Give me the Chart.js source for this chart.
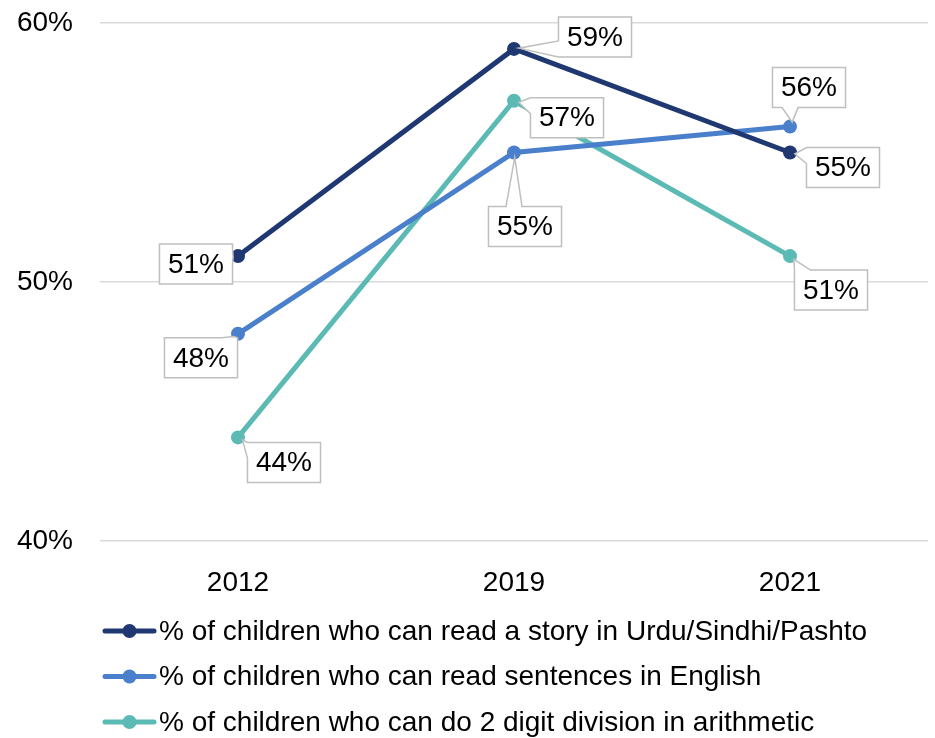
<!DOCTYPE html>
<html>
<head>
<meta charset="utf-8">
<script src="https://cdn.jsdelivr.net/npm/chart.js@4.4.1/dist/chart.umd.min.js"></script>
<style>
  html, body { margin: 0; padding: 0; background: #fff; }
  #wrap { width: 935px; height: 738px; }
</style>
</head>
<body>
<div id="wrap"><canvas id="chart"></canvas></div>
<script>
// survey years and the three learning indicators (percent)
const years = ['2012', '2019', '2021'];
const readStory = [51, 59, 55];
const readEnglish = [48, 55, 56];
const twoDigitDivision = [44, 57, 51];
const seriesNames = [
    '% of children who can read a story in Urdu/Sindhi/Pashto',
    '% of children who can read sentences in English',
    '% of children who can do 2 digit division in arithmetic'
];
const yTicks = [40, 50, 60];

const colors = ['#1F3872', '#4A7FCC', '#5BBAB3'];

// where each callout box sits relative to its point (dx, dy of box centre)
const labelOffsets = [
    [[-42, 8], [81, -12], [53, 15]],
    [[-37, 24], [11, 74], [19, -39]],
    [[46, 25], [53, 17], [41, 34]]
];

const FAMILY = '"Liberation Sans", Arial, sans-serif';
const FONT = '28px ' + FAMILY;

function clamp(v, lo, hi) {
    return Math.max(lo, Math.min(hi, v));
}

// white box with grey outline and a wedge pointing back at the marker
const calloutLabels = {
    id: 'calloutLabels',
    afterDatasetsDraw(chart) {
        const ctx = chart.ctx;
        ctx.save();
        ctx.font = FONT;
        chart.data.datasets.forEach((ds, di) => {
            const meta = chart.getDatasetMeta(di);
            meta.data.forEach((el, i) => {
                const text = ds.data[i] + '%';
                const w = ctx.measureText(text).width + 17;
                const h = 40;
                const cx = el.x + labelOffsets[di][i][0];
                const cy = el.y + labelOffsets[di][i][1];
                const l = cx - w / 2, r = cx + w / 2, t = cy - h / 2, b = cy + h / 2;

                // which side of the box faces the point
                const outL = l - el.x, outR = el.x - r, outT = t - el.y, outB = el.y - b;
                const best = Math.max(outL, outR, outT, outB);
                let side = 'left';
                if (best === outR) side = 'right';
                if (best === outT) side = 'top';
                if (best === outB) side = 'bottom';

                const hw = 8;
                const len = Math.hypot(cx - el.x, cy - el.y) || 1;
                const tipX = el.x + (cx - el.x) / len * 5;
                const tipY = el.y + (cy - el.y) / len * 5;

                ctx.beginPath();
                ctx.moveTo(l, t);
                if (side === 'top') {
                    const c = clamp(el.x, l + hw, r - hw);
                    ctx.lineTo(c - hw, t); ctx.lineTo(tipX, tipY); ctx.lineTo(c + hw, t);
                }
                ctx.lineTo(r, t);
                if (side === 'right') {
                    const c = clamp(el.y, t + hw, b - hw);
                    ctx.lineTo(r, c - hw); ctx.lineTo(tipX, tipY); ctx.lineTo(r, c + hw);
                }
                ctx.lineTo(r, b);
                if (side === 'bottom') {
                    const c = clamp(el.x, l + hw, r - hw);
                    ctx.lineTo(c + hw, b); ctx.lineTo(tipX, tipY); ctx.lineTo(c - hw, b);
                }
                ctx.lineTo(l, b);
                if (side === 'left') {
                    const c = clamp(el.y, t + hw, b - hw);
                    ctx.lineTo(l, c + hw); ctx.lineTo(tipX, tipY); ctx.lineTo(l, c - hw);
                }
                ctx.closePath();
                ctx.fillStyle = '#ffffff';
                ctx.fill();
                ctx.lineWidth = 1.5;
                ctx.strokeStyle = '#BFBFBF';
                ctx.stroke();

                ctx.fillStyle = '#000000';
                ctx.textAlign = 'center';
                ctx.textBaseline = 'middle';
                ctx.fillText(text, cx, cy + 1);
            });
        });
        ctx.restore();
    }
};

// legend stacked one series per row under the axis
const stackedLegend = {
    id: 'stackedLegend',
    afterDraw(chart) {
        const ctx = chart.ctx;
        const base = chart.chartArea.bottom + 90;
        ctx.save();
        ctx.font = FONT;
        chart.data.datasets.forEach((ds, i) => {
            const y = base + i * 45.5;
            ctx.strokeStyle = ds.borderColor;
            ctx.lineWidth = 5;
            ctx.lineCap = 'round';
            ctx.beginPath();
            ctx.moveTo(105, y);
            ctx.lineTo(154, y);
            ctx.stroke();
            ctx.fillStyle = ds.borderColor;
            ctx.beginPath();
            ctx.arc(129.5, y, 7, 0, Math.PI * 2);
            ctx.fill();
            ctx.fillStyle = '#000000';
            ctx.textAlign = 'left';
            ctx.textBaseline = 'middle';
            ctx.fillText(ds.label, 159, y + 1);
        });
        ctx.restore();
    }
};

const values = [readStory, readEnglish, twoDigitDivision];

new Chart(document.getElementById('chart'), {
    type: 'line',
    data: {
        labels: years,
        datasets: values.map((v, i) => ({
            label: seriesNames[i],
            data: v,
            borderColor: colors[i],
            backgroundColor: colors[i],
            pointBackgroundColor: colors[i],
            pointBorderColor: colors[i],
            borderWidth: 5,
            pointRadius: 7,
            pointBorderWidth: 0,
            tension: 0,
            fill: false
        }))
    },
    options: {
        responsive: true,
        maintainAspectRatio: false,
        animation: false,
        layout: { padding: { top: 23, right: 5, left: 0, bottom: 0 } },
        plugins: {
            legend: { display: false },
            tooltip: { enabled: false }
        },
        scales: {
            x: {
                offset: true,
                grid: { display: false },
                border: { display: false },
                ticks: {
                    color: '#000000',
                    font: { family: FAMILY, size: 28 },
                    padding: 17
                },
                afterFit(scale) { scale.height = 197; }
            },
            y: {
                min: 40,
                max: 60,
                afterBuildTicks(scale) {
                    scale.ticks = yTicks.map(v => ({ value: v }));
                },
                grid: { color: '#D9D9D9', lineWidth: 1.5, drawTicks: false },
                border: { display: false },
                ticks: {
                    color: '#000000',
                    font: { family: FAMILY, size: 28 },
                    padding: 27,
                    callback: v => v + '%'
                },
                afterFit(scale) {
                    scale.width = 100;
                    scale.paddingTop = 0;
                    scale.paddingBottom = 0;
                }
            }
        }
    },
    plugins: [calloutLabels, stackedLegend]
});
</script>
</body>
</html>
